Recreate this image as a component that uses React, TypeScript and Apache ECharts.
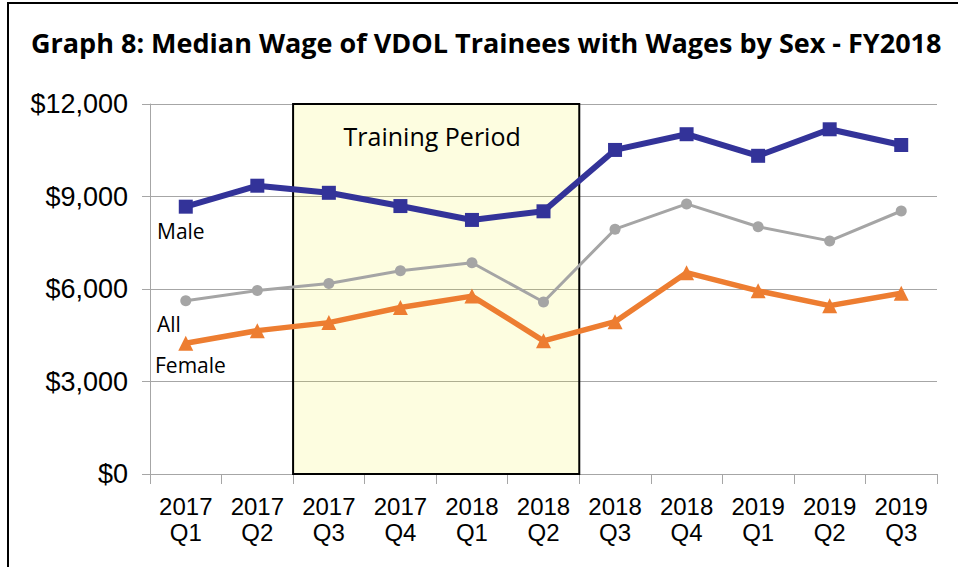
import React, { useEffect, useRef } from 'react';
import * as echarts from 'echarts';

const categories = [
  '2017\nQ1', '2017\nQ2', '2017\nQ3', '2017\nQ4', '2018\nQ1', '2018\nQ2',
  '2018\nQ3', '2018\nQ4', '2019\nQ1', '2019\nQ2', '2019\nQ3',
];
const maleWages = [8670, 9350, 9120, 8690, 8240, 8520, 10510, 11020, 10320, 11180, 10670];
const allWages = [5620, 5950, 6180, 6590, 6850, 5580, 7940, 8760, 8020, 7560, 8530];
const femaleWages = [4240, 4650, 4910, 5400, 5770, 4320, 4940, 6530, 5940, 5460, 5860];
const yMin = 0;
const yMax = 12000;
const yInterval = 3000;
const trainingStart = 2; // boundary before 2017 Q3
const trainingEnd = 6; // boundary after 2018 Q2
const trainingLabel = 'Training Period';
const title = 'Graph 8: Median Wage of VDOL Trainees with Wages by Sex - FY2018';

export default function App() {
  const ref = useRef<HTMLDivElement>(null);
  useEffect(() => {
    if (!ref.current) return;
    const chart = echarts.init(ref.current, null, { renderer: 'svg' });
    const gray = '#A6A6A6';
    chart.setOption({
      animation: false,
      backgroundColor: '#fff',
      title: {
        text: title,
        left: 26,
        top: 24,
        textStyle: { fontFamily: 'Open Sans', fontWeight: 'bold', fontSize: 27, color: '#000' },
      },
      grid: { left: 150, right: 21, top: 104, bottom: 93, containLabel: false },
      xAxis: [
        {
          type: 'category',
          data: categories,
          boundaryGap: true,
          axisLine: { show: true, lineStyle: { color: gray, width: 1 } },
          axisTick: { show: true, length: 10, lineStyle: { color: gray } },
          axisLabel: {
            interval: 0,
            margin: 19,
            fontFamily: 'Liberation Sans',
            fontSize: 24,
            lineHeight: 26,
            color: '#000',
          },
        },
        {
          type: 'value',
          min: 0,
          max: categories.length,
          show: false,
        },
      ],
      yAxis: {
        type: 'value',
        min: yMin,
        max: yMax,
        interval: yInterval,
        axisLine: { show: true, lineStyle: { color: gray } },
        axisTick: { show: true, length: 8, lineStyle: { color: gray } },
        splitLine: { show: true, lineStyle: { color: gray, width: 1 } },
        axisLabel: {
          margin: 22,
          fontFamily: 'Liberation Sans',
          fontSize: 27,
          color: '#000',
          formatter: (v: number) => '$' + v.toLocaleString('en-US'),
        },
      },
      graphic: [
        {
          type: 'rect',
          shape: { x: 8, y: 3, width: 1000, height: 600 },
          style: { fill: 'none', stroke: '#000', lineWidth: 2 },
          silent: true,
        },
        {
          type: 'text',
          left: 157,
          top: 220,
          style: { text: 'Male', fontFamily: 'Open Sans', fontSize: 21, fill: '#000' },
        },
        {
          type: 'text',
          left: 157,
          top: 313,
          style: { text: 'All', fontFamily: 'Open Sans', fontSize: 21, fill: '#000' },
        },
        {
          type: 'text',
          left: 155,
          top: 354,
          style: { text: 'Female', fontFamily: 'Open Sans', fontSize: 21, fill: '#000' },
        },
      ],
      series: [
        {
          name: 'All',
          type: 'line',
          data: allWages,
          symbol: 'circle',
          symbolSize: 11,
          lineStyle: { color: '#A5A5A5', width: 3 },
          itemStyle: { color: '#A5A5A5' },
          z: 2,
        },
        {
          name: 'Female',
          type: 'line',
          data: femaleWages,
          symbol: 'triangle',
          symbolSize: 15,
          lineStyle: { color: '#ED7D31', width: 5.5 },
          itemStyle: { color: '#ED7D31' },
          z: 3,
        },
        {
          name: 'Male',
          type: 'line',
          data: maleWages,
          symbol: 'rect',
          symbolSize: 14,
          lineStyle: { color: '#333399', width: 6 },
          itemStyle: { color: '#333399' },
          z: 4,
        },
        {
          name: 'Training',
          type: 'line',
          xAxisIndex: 1,
          data: [],
          z: 6,
          markArea: {
            silent: true,
            itemStyle: { color: 'rgba(235,235,0,0.12)', borderColor: '#000', borderWidth: 2 },
            label: {
              show: true,
              position: 'insideTop',
              distance: 20,
              fontFamily: 'Open Sans',
              fontSize: 25,
              color: '#000',
              offset: [-4, 0],
            },
            data: [[
              { name: trainingLabel, xAxis: trainingStart, yAxis: yMax },
              { xAxis: trainingEnd, yAxis: yMin },
            ]],
          },
        },
      ],
    });
    return () => chart.dispose();
  }, []);
  return <div ref={ref} style={{ position: 'fixed', left: 0, top: 0, width: 958, height: 567 }} />;
}
